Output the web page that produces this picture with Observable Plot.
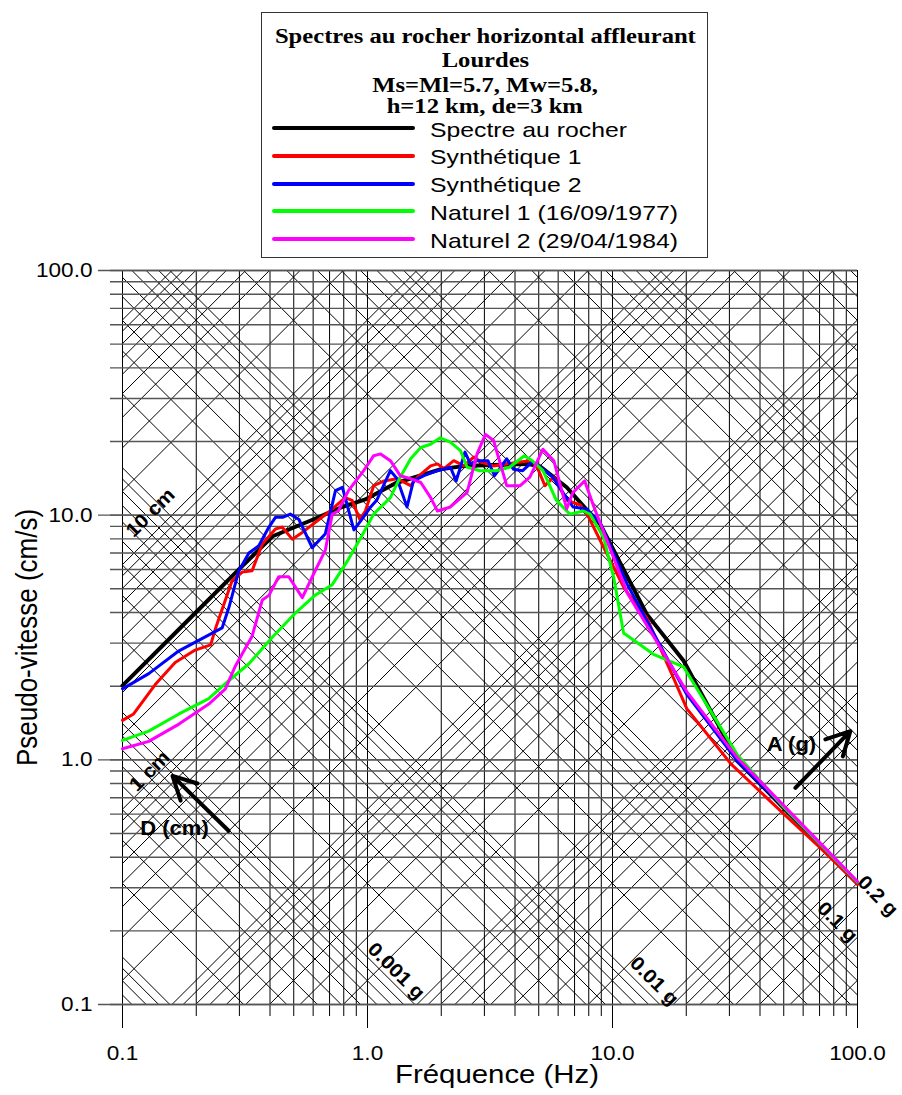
<!DOCTYPE html>
<html><head><meta charset="utf-8">
<script src="https://cdn.jsdelivr.net/npm/d3@7"></script>
<script src="https://cdn.jsdelivr.net/npm/@observablehq/plot@0.6"></script>
<style>
body{margin:0;background:#fff;}
#wrap{position:relative;width:902px;height:1095px;overflow:hidden;background:#fff}
#head{position:relative;width:902px;height:260px}
#box{position:absolute;left:261px;top:12px;width:445px;height:244px;border:1.5px solid #333;}
.t{position:absolute;left:261px;width:448px;text-align:center;font:bold 20.5px "Liberation Serif","Times New Roman",serif;line-height:24px;height:24px;white-space:nowrap;color:#000}
.t span{display:inline-block;transform:scaleX(1.2)}
.lg{position:absolute;left:430px;font:21px "Liberation Sans",Arial,sans-serif;line-height:26px;height:26px;white-space:nowrap;transform:scaleX(1.18);transform-origin:0 50%;color:#000}
.sw{position:absolute;left:272px;width:143px}
svg{display:block}
</style>
</head><body>
<div id="wrap"><div id="head"><div id="box"></div></div><div id="chart"></div></div>
<script>
// ---- titles / legend ----
const titleLines = ["Spectres au rocher horizontal affleurant", "Lourdes", "Ms=Ml=5.7, Mw=5.8,", "h=12 km, de=3 km"];
const seriesNames = ["Spectre au rocher", "Synthétique 1", "Synthétique 2", "Naturel 1 (16/09/1977)", "Naturel 2 (29/04/1984)"];
const seriesColors = ["#000000", "#ff0000", "#0000ff", "#00ff00", "#ff00ff"];

// ---- axis ticks ----
const majorTicks = [0.1, 1, 10, 100];
const tickLabels = ["0.1", "1.0", "10.0", "100.0"];
const tickMultipliers = [1, 2, 3, 4, 5, 6, 7, 8, 9];
const tickDecades = [0.1, 1, 10];

// ---- tripartite grid (displacement in cm, acceleration in g) ----
const dispDecades = [1e-4, 1e-3, 1e-2, 1e-1, 1, 10, 100];
const accDecades = [1e-5, 1e-4, 1e-3, 1e-2, 1e-1, 1, 10];

// ---- series (frequency Hz, pseudo-velocity cm/s) ----
const rockF = [0.1, 0.2, 0.3, 0.41, 0.6, 0.77, 0.98, 1.3, 1.98, 2.5, 3.0, 4.49, 5.07, 6.5, 8.0, 8.9, 10.8, 13.8, 19.5, 32.3, 50, 70, 100];
const rockV = [2.01, 4.02, 6.03, 8.2, 9.6, 10.7, 11.6, 13.5, 15.4, 15.9, 16.0, 16.2, 15.8, 13.0, 10.3, 9.2, 6.32, 3.94, 2.54, 1.0, 0.635, 0.452, 0.312];

const syn1F = [0.1, 0.111, 0.136, 0.164, 0.198, 0.229, 0.24, 0.28, 0.308, 0.338, 0.372, 0.421, 0.448, 0.493, 0.542, 0.695, 0.811, 0.865, 0.93, 0.98, 1.06, 1.17, 1.32, 1.5, 1.6, 1.81, 1.93, 2.05, 2.25, 2.47, 2.72, 2.9, 3.27, 3.7, 4.2, 4.6, 4.9, 5.3, 5.76, 6.5, 7.4, 8.0, 8.9, 11.2, 13.8, 17.3, 20.1, 30.5, 48.4, 70, 100];
const syn1V = [1.45, 1.54, 2.03, 2.5, 2.81, 2.95, 3.46, 5.39, 5.85, 5.93, 7.62, 8.78, 8.94, 7.98, 8.5, 10.3, 11.8, 11.5, 9.6, 10.4, 13.2, 13.8, 14.1, 13.2, 14.3, 15.9, 16.2, 15.5, 16.7, 15.9, 17.3, 16.5, 15.9, 16.2, 16.5, 16.7, 15.9, 13.2, 14.3, 11.5, 11.0, 9.8, 7.9, 5.0, 3.8, 2.29, 1.62, 0.96, 0.62, 0.44, 0.31];

const syn2F = [0.1, 0.128, 0.17, 0.255, 0.272, 0.298, 0.328, 0.36, 0.396, 0.421, 0.45, 0.484, 0.525, 0.595, 0.673, 0.74, 0.79, 0.83, 0.88, 0.94, 1.03, 1.09, 1.24, 1.32, 1.45, 1.54, 1.7, 1.93, 2.18, 2.3, 2.5, 2.63, 2.8, 3.1, 3.3, 3.7, 3.94, 4.3, 4.7, 5.05, 5.7, 6.3, 6.9, 7.85, 8.9, 11.5, 13.8, 20.1, 32.3, 50, 70, 100];
const syn2V = [1.95, 2.25, 2.79, 3.46, 4.2, 5.9, 7.0, 7.5, 8.94, 9.8, 9.8, 10.1, 9.6, 7.36, 8.4, 12.6, 13.0, 10.8, 8.7, 9.5, 10.8, 11.5, 15.2, 14.1, 10.8, 13.8, 14.5, 15.2, 15.7, 13.8, 18.1, 16.2, 16.7, 16.7, 14.5, 17.0, 15.4, 15.2, 16.5, 15.8, 14.3, 12.3, 10.8, 10.6, 9.3, 5.2, 3.7, 1.85, 0.99, 0.64, 0.455, 0.316];

const nat1F = [0.1, 0.128, 0.17, 0.225, 0.272, 0.328, 0.408, 0.51, 0.61, 0.718, 0.836, 0.94, 1.06, 1.24, 1.36, 1.5, 1.65, 1.81, 1.98, 2.18, 2.4, 2.55, 2.88, 3.36, 3.8, 4.37, 4.7, 5.2, 5.9, 6.7, 7.6, 8.1, 9.2, 10.1, 11.1, 14.7, 19.5, 32.3, 50, 70, 100];
const nat1V = [1.2, 1.31, 1.54, 1.78, 2.11, 2.47, 3.16, 4.0, 4.7, 5.2, 6.6, 8.1, 10.1, 11.8, 14.3, 17.0, 18.9, 19.5, 20.7, 19.9, 18.3, 15.7, 15.2, 15.2, 15.7, 17.5, 16.7, 15.2, 11.5, 10.1, 10.4, 10.1, 8.1, 5.6, 3.3, 2.7, 2.4, 1.05, 0.64, 0.455, 0.316];

const nat2F = [0.1, 0.128, 0.17, 0.225, 0.263, 0.289, 0.338, 0.372, 0.396, 0.434, 0.477, 0.542, 0.61, 0.673, 0.718, 0.76, 0.836, 0.965, 1.06, 1.13, 1.24, 1.36, 1.5, 1.65, 1.81, 1.93, 2.18, 2.55, 2.8, 3.03, 3.27, 3.7, 4.2, 4.6, 5.2, 5.76, 6.5, 6.9, 7.7, 8.4, 8.9, 11.5, 15.1, 20.1, 32.3, 50, 70, 100];
const nat2V = [1.11, 1.19, 1.40, 1.69, 1.95, 2.42, 3.2, 4.5, 4.7, 5.6, 5.6, 4.6, 5.9, 7.2, 10.1, 10.4, 12.6, 15.2, 17.5, 17.8, 16.7, 14.5, 14.1, 13.6, 11.8, 10.4, 10.8, 12.4, 17.8, 21.4, 20.2, 13.2, 13.2, 14.3, 18.6, 16.7, 10.6, 12.4, 13.8, 10.8, 9.3, 4.8, 3.06, 1.9, 1.02, 0.65, 0.46, 0.318];

// ---- annotations (frequency, velocity, rotation) ----
const annoText = ["10 cm", "1 cm", "D (cm)", "A (g)", "0.2 g", "0.1 g", "0.01 g", "0.001 g"];
const annoF = [0.130, 0.129, 0.163, 53.8, 121, 82.8, 14.8, 1.31];
const annoV = [10.24, 0.90, 0.522, 1.15, 0.278, 0.2175, 0.1247, 0.137];
const annoRot = [-45, -45, 0, 0, 45, 45, 45, 45];
const arrowF1 = [0.271, 55.8], arrowV1 = [0.513, 0.768];
const arrowF2 = [0.16, 93.5], arrowV2 = [0.86, 1.31];

// ---- build header ----
const head = document.getElementById("head");
const titleCenters = [36, 60, 85, 106];
titleLines.forEach((t, i) => {
  const d = document.createElement("div");
  d.className = "t"; d.style.top = (titleCenters[i] - 12) + "px";
  const s = document.createElement("span"); s.textContent = t; d.appendChild(s);
  head.appendChild(d);
});
const swCenters = [128, 156, 184, 211, 239];
const txtCenters = [129.5, 157, 185, 212.5, 240.5];
seriesNames.forEach((n, i) => {
  const w = i === 0 ? 4.5 : 3.5;
  const sw = document.createElement("div");
  sw.className = "sw"; sw.style.top = (swCenters[i] - w / 2) + "px"; sw.style.height = w + "px";
  sw.style.background = seriesColors[i]; sw.style.borderRadius = "2px";
  head.appendChild(sw);
  const l = document.createElement("div");
  l.className = "lg"; l.style.top = (txtCenters[i] - 13) + "px"; l.textContent = n;
  head.appendChild(l);
});

// ---- derived tables ----
const gridValues = tickDecades.flatMap(d => tickMultipliers.map(m => m * d)).concat([100]);
const dispValues = dispDecades.flatMap(d => tickMultipliers.map(m => m * d));
const accValues = accDecades.flatMap(d => tickMultipliers.map(m => m * d));
const fEnds = [0.001, 10000];
const dispLines = dispValues.flatMap((D, i) => fEnds.map(f => ({f, v: 2 * Math.PI * f * D, id: i})));
const accLines = accValues.flatMap((A, i) => fEnds.map(f => ({f, v: A * 981 / (2 * Math.PI * f), id: i})));

const seriesF = [rockF, syn1F, syn2F, nat1F, nat2F];
const seriesV = [rockV, syn1V, syn2V, nat1V, nat2V];
const seriesMarks = seriesNames.map((name, s) => {
  const rows = seriesF[s].map((f, i) => ({f, v: seriesV[s][i]}));
  return Plot.line(rows, {x: "f", y: "v", stroke: seriesColors[s], strokeWidth: s === 0 ? 4 : 3, strokeLinejoin: "round", strokeLinecap: "round"});
});
const annos = annoText.map((t, i) => ({t, f: annoF[i], v: annoV[i], r: annoRot[i]}));
const arrows = arrowF1.map((f, i) => ({f1: f, v1: arrowV1[i], f2: arrowF2[i], v2: arrowV2[i]}));
const ticks = majorTicks.map((v, i) => ({v, t: tickLabels[i]}));

const svg = Plot.plot({
  width: 902, height: 835,
  marginTop: 10, marginLeft: 122, marginRight: 45, marginBottom: 91,
  style: {background: "white", fontFamily: "'Liberation Sans', Arial, sans-serif", color: "black", overflow: "visible"},
  x: {type: "log", domain: [0.1, 100], axis: null},
  y: {type: "log", domain: [0.1, 100], axis: null},
  marks: [
    Plot.line(dispLines, {x: "f", y: "v", z: "id", stroke: "#000", strokeWidth: 1, clip: true}),
    Plot.line(accLines, {x: "f", y: "v", z: "id", stroke: "#000", strokeWidth: 1, clip: true}),
    Plot.ruleX(gridValues, {x: d => d, stroke: "#000", strokeWidth: 1, insetBottom: -12}),
    Plot.ruleX(majorTicks, {x: d => d, stroke: "#000", strokeWidth: 1, insetBottom: -24}),
    Plot.ruleY(gridValues, {y: d => d, stroke: "#555", strokeWidth: 1.4, insetLeft: -12}),
    Plot.ruleY(majorTicks, {y: d => d, stroke: "#555", strokeWidth: 1.4, insetLeft: -24}),
    ...seriesMarks,
    Plot.arrow(arrows, {x1: "f1", y1: "v1", x2: "f2", y2: "v2", stroke: "#000", strokeWidth: 4, headLength: 14, headAngle: 55}),
    Plot.text(annos, {x: "f", y: "v", text: "t", rotate: "r", fontWeight: "bold", fontSize: 19.5, fill: "#000", textAnchor: "middle", lineAnchor: "middle"}),
    Plot.text(ticks, {x: "v", y: 0.1, dy: 49, text: "t", fontSize: 20, fill: "#000", textAnchor: "middle", lineAnchor: "middle"}),
    Plot.text(ticks, {x: 0.1, y: "v", dx: -30, text: "t", fontSize: 20, fill: "#000", textAnchor: "end", lineAnchor: "middle"}),
    Plot.text(["Fréquence (Hz)"], {frameAnchor: "bottom", dx: 7, dy: 70, text: d => d, fontSize: 26, fill: "#000", textAnchor: "middle", lineAnchor: "middle"}),
    Plot.text(["Pseudo-vitesse (cm/s)"], {frameAnchor: "left", dx: -95, rotate: -90, text: d => d, fontSize: 26, fill: "#000", textAnchor: "middle", lineAnchor: "middle"})
  ]
});

// horizontal stretch of glyphs, as in the reference
function stretchText(root, k, kDiag) {
  root.querySelectorAll("text").forEach(t => {
    const tr = t.getAttribute("transform");
    if (!tr) return;
    const m = tr.match(/^\s*(translate\([^)]*\))\s*(.*)$/);
    if (!m) return;
    const rest = m[2];
    const rm = rest.match(/rotate\(\s*([-\d.e]+)/);
    const ang = rm ? +rm[1] : 0;
    if (Math.abs(Math.abs(ang) - 45) < 1) t.setAttribute("transform", `${m[1]} ${rest} scale(${kDiag},1)`);
    else t.setAttribute("transform", `${m[1]} scale(${k},1) ${rest}`);
  });
}
stretchText(svg, 1.13, 1.08);
document.getElementById("chart").appendChild(svg);
</script>
</body></html>
